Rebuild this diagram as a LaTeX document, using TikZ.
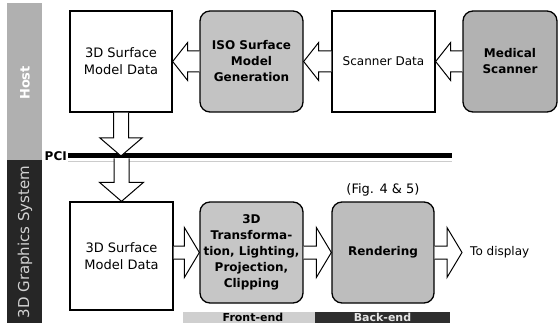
\documentclass[tikz,border=0pt]{standalone}
\usepackage{fontspec}
\setmainfont{DejaVu Sans}
\usetikzlibrary{calc}
\tikzset{
  wbox/.style={draw=black, line width=1.3pt, fill=white, align=center, inner sep=0pt,
    minimum width=102pt, minimum height=101pt},
  gbox/.style={draw=black, line width=1.3pt, rounded corners=10pt, align=center, inner sep=0pt,
    minimum width=103pt, minimum height=101pt, font=\bfseries\fontsize{12}{16}\selectfont},
  blk/.style={draw=black, line width=1pt, fill=white, line join=miter},
  band/.style={inner sep=0pt, minimum height=11pt, font=\bfseries\fontsize{11}{11}\selectfont},
}
\newcommand\hollowarrow[5]{%
  \coordinate (ha-b) at ($(#2)!#5!(#1)$);
  \filldraw[blk]
    ($(#1)!#3!90:(#2)$) -- ($(ha-b)!#3!90:(#2)$) -- ($(ha-b)!#4!90:(#2)$) -- (#2)
    -- ($(ha-b)!#4!-90:(#2)$) -- ($(ha-b)!#3!-90:(#2)$) -- ($(#1)!#3!-90:(#2)$);
}
\begin{document}
\begin{tikzpicture}[x=1pt,y=-1pt]
\useasboundingbox[fill=white] (0,0) rectangle (559,323);

% side bars
\fill[gray!62] (7,3) rectangle (42,160);
\fill[black!85] (7,160) rectangle (42,323);
\node (host) [rotate=90, text=white, font=\bfseries\fontsize{13}{13}\selectfont] at (25,83) {Host};
\node (gfx) [rotate=90, text=gray!35, font=\fontsize{15}{15}\selectfont] at (25,242) {3D Graphics System};

% PCI bus
\coordinate (pciL) at (68,156);
\coordinate (pciR) at (452,156);
\draw[gray!40, line width=1.2pt] (68,161.5) -- (452,161.5);
\draw[line width=5pt] (pciL) -- (pciR);
\node (pci) [anchor=east, inner sep=1pt, font=\bfseries\fontsize{12}{12}\selectfont] at (pciL) {PCI};

% top row
\node (sm1) [wbox, font=\fontsize{13}{17}\selectfont] at (121,61.5) {3D Surface\\Model Data};
\node (iso) [gbox, fill=gray!47] at (251.5,61.5) {ISO Surface\\Model\\Generation};
\node (scan) [wbox, minimum width=103pt, font=\fontsize{12}{16}\selectfont] at (383.5,61.5) {Scanner Data};
\node (med) [gbox, fill=gray!60, minimum width=94pt] at (510,61.5) {Medical\\Scanner};

% bottom row
\node (sm2) [wbox, minimum width=103pt, minimum height=108pt, font=\fontsize{13}{17}\selectfont] at (121.5,256) {3D Surface\\Model Data};
\node (tr) [gbox, fill=gray!45] at (251.5,252.5) {3D\\Transforma-\\tion, Lighting,\\Projection,\\Clipping};
\node (ren) [gbox, fill=gray!52, minimum width=102pt] at (383,252.5) {Rendering};
\node (fig) [font=\fontsize{13}{13}\selectfont] at (383,190) {(Fig. 4 \& 5)};
\node (disp) [anchor=west, inner sep=0pt, font=\fontsize{12}{12}\selectfont] at (470,252.5) {To display};
\coordinate (dtip) at (462,252.5);

% bands
\node (front) [band, fill=gray!38, minimum width=132pt] at (249,317.5) {\hspace*{8pt}Front-end};
\node (back) [band, fill=black!82, text=gray!20, minimum width=135pt] at (382.5,317.5) {Back-end};

% arrows top row
\hollowarrow{med.west}{scan.east}{10.5pt}{19pt}{15pt}
\hollowarrow{scan.west}{iso.east}{10.5pt}{19pt}{15pt}
\hollowarrow{iso.west}{sm1.east}{10.5pt}{19pt}{15pt}

% vertical arrows
\coordinate (vtip) at (sm1.south |- pciL);
\hollowarrow{sm1.south}{vtip}{7.5pt}{21pt}{18pt}
\coordinate (vstart) at ($(sm2.north |- pciL)+(0,2.5)$);
\hollowarrow{vstart}{sm2.north}{7.5pt}{22pt}{19pt}

% arrows bottom row
\coordinate (a3s) at (sm2.east |- tr.west);
\hollowarrow{a3s}{tr.west}{6.5pt}{25pt}{15pt}
\hollowarrow{tr.east}{ren.west}{6.5pt}{25pt}{15pt}
\hollowarrow{ren.east}{dtip}{6.5pt}{25pt}{15pt}
\end{tikzpicture}
\end{document}
